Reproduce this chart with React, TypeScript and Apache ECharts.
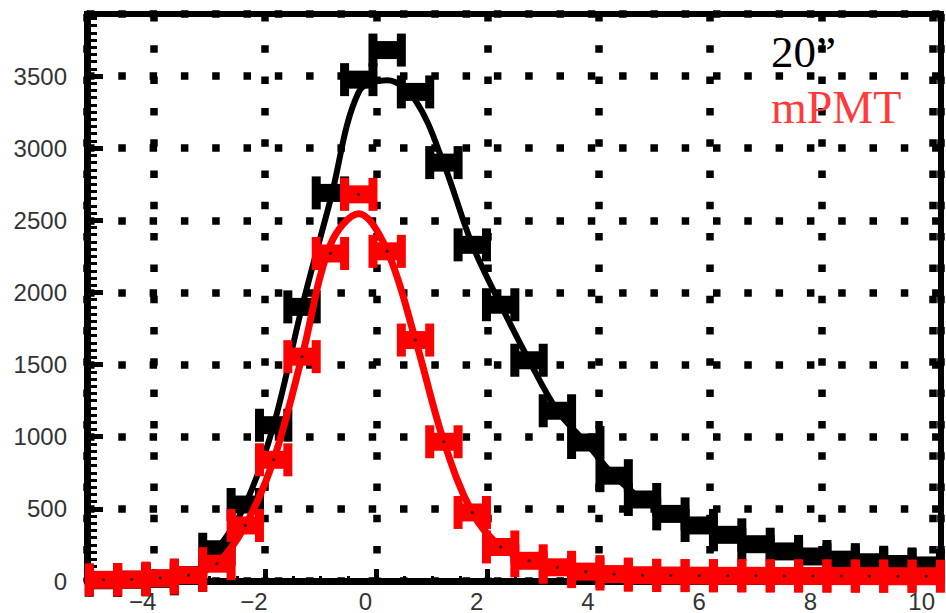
import React, { useEffect, useRef } from "react";
import * as echarts from "echarts";

// Histogram binning: 30 bins of width 0.51 starting at -5.16
const BIN_WIDTH = 0.51;
const binCenters = [
  -4.905, -4.395, -3.885, -3.375, -2.865, -2.355, -1.845, -1.335, -0.825, -0.315,
  0.195, 0.705, 1.215, 1.725, 2.235, 2.745, 3.255, 3.765, 4.275, 4.785,
  5.295, 5.805, 6.315, 6.825, 7.335, 7.845, 8.355, 8.865, 9.375, 9.885,
];

// 20" PMT bin contents
const pmt20Counts = [
  5, 8, 15, 40, 220, 530, 1080, 1900, 2690, 3475,
  3680, 3390, 2900, 2330, 1915, 1530, 1180, 960, 730, 565,
  465, 385, 320, 255, 205, 170, 148, 130, 118, 108,
];
// smoothed curve drawn over the 20" histogram
const pmt20Curve = [
  5, 8, 15, 40, 220, 530, 1080, 1900, 2640, 3390,
  3470, 3330, 2890, 2330, 1915, 1530, 1180, 960, 730, 565,
  465, 385, 320, 255, 205, 170, 148, 130, 118, 108,
];

// mPMT bin contents
const mpmtCounts = [
  8, 10, 20, 40, 120, 385, 840, 1555, 2270, 2680,
  2285, 1670, 965, 475, 236, 140, 95, 65, 48, 40,
  38, 37, 36, 36, 35, 35, 34, 34, 33, 33,
];
// smoothed curve drawn over the mPMT histogram
const mpmtCurve = [
  8, 10, 20, 40, 120, 385, 840, 1555, 2330, 2545,
  2290, 1670, 965, 475, 236, 140, 95, 65, 48, 40,
  38, 37, 36, 36, 35, 35, 34, 34, 33, 33,
];

const legendLabels = ["20\u201D", "mPMT"];

const BLACK = "#000000";
const RED = "#ff0000";
const LEGEND_RED = "#ff3a3a";

function pairs(values: number[]): number[][] {
  return binCenters.map((c, i) => [c, values[i]]);
}

// ROOT-style error-bar marker: horizontal bar across the bin with end caps
function markerSeries(name: string, values: number[], color: string, z: number) {
  return {
    name,
    type: "custom",
    z,
    clip: false,
    data: pairs(values),
    encode: { x: 0, y: 1 },
    renderItem: (_params: any, api: any) => {
      const xc = api.value(0);
      const v = api.value(1);
      const l = api.coord([xc - BIN_WIDTH / 2, v]);
      const r = api.coord([xc + BIN_WIDTH / 2, v]);
      const capW = 9;
      const capH = 33;
      const barH = 18;
      return {
        type: "group",
        children: [
          {
            type: "rect",
            shape: { x: l[0], y: l[1] - barH / 2, width: r[0] - l[0], height: barH },
            style: { fill: color },
          },
          {
            type: "rect",
            shape: { x: l[0] - capW / 2, y: l[1] - capH / 2, width: capW, height: capH },
            style: { fill: color },
          },
          {
            type: "rect",
            shape: { x: r[0] - capW / 2, y: r[1] - capH / 2, width: capW, height: capH },
            style: { fill: color },
          },
        ],
      };
    },
  };
}

function curveSeries(name: string, values: number[], color: string, width: number, z: number) {
  return {
    name,
    type: "line",
    z,
    data: pairs(values),
    smooth: 0.35,
    showSymbol: false,
    symbol: "none",
    lineStyle: { color, width },
  };
}

const tickLabel = (v: number) => {
  if (Math.abs(v - Math.round(v)) > 1e-6) return "";
  return v < 0 ? "\u2212" + Math.abs(v) : String(v);
};

const dotted = { color: BLACK, width: 7.5, type: [7.5, 23.8] as number[] };

export default function App() {
  const ref = useRef<HTMLDivElement>(null);

  useEffect(() => {
    if (!ref.current) return;
    const chart = echarts.init(ref.current, undefined, { renderer: "svg" });
    chart.setOption({
      animation: false,
      backgroundColor: "#ffffff",
      grid: {
        left: 87,
        top: 14,
        width: 854,
        height: 576,
        show: true,
        borderColor: BLACK,
        borderWidth: 6,
        backgroundColor: "transparent",
      },
      xAxis: {
        type: "value",
        min: -5.2,
        max: 10.15,
        splitNumber: 8,
        axisLine: { show: true, onZero: false, lineStyle: { color: BLACK, width: 7 } },
        axisTick: { show: true, inside: true, length: 12, lineStyle: { color: BLACK, width: 5 } },
        minorTick: { show: true, splitNumber: 4, length: 5, lineStyle: { color: BLACK, width: 3 } },
        splitLine: { show: true, lineStyle: dotted },
        axisLabel: {
          show: true,
          showMinLabel: false,
          showMaxLabel: false,
          margin: 8,
          padding: [0, 22, 0, 0],
          color: "#333333",
          fontSize: 24,
          fontFamily: "Liberation Sans",
          formatter: tickLabel,
        },
      },
      yAxis: {
        type: "value",
        min: 0,
        max: 3930,
        interval: 500,
        axisLine: { show: true, onZero: false, lineStyle: { color: BLACK, width: 7 } },
        axisTick: { show: true, inside: true, length: 16, lineStyle: { color: BLACK, width: 5 } },
        minorTick: { show: true, splitNumber: 10, length: 10, lineStyle: { color: BLACK, width: 3 } },
        splitLine: { show: true, lineStyle: dotted },
        axisLabel: {
          show: true,
          showMaxLabel: false,
          margin: 20,
          color: "#333333",
          fontSize: 24,
          fontFamily: "Liberation Sans",
          formatter: tickLabel,
        },
      },
      series: [
        markerSeries("20in-markers", pmt20Counts, BLACK, 3),
        curveSeries("20in-curve", pmt20Curve, BLACK, 6, 4),
        markerSeries("mpmt-markers", mpmtCounts, RED, 5),
        curveSeries("mpmt-curve", mpmtCurve, RED, 7, 6),
        {
          name: "mpmt-points",
          type: "scatter",
          z: 7,
          data: pairs(mpmtCounts),
          symbol: "circle",
          symbolSize: 3,
          itemStyle: { color: BLACK },
          silent: true,
        },
      ],
      graphic: [
        {
          type: "text",
          x: 771,
          y: 52,
          z: 20,
          style: {
            text: legendLabels[0],
            fill: BLACK,
            fontSize: 45,
            fontFamily: "Liberation Serif",
            align: "left",
            verticalAlign: "middle",
          },
        },
        {
          type: "text",
          x: 771,
          y: 107,
          z: 20,
          style: {
            text: legendLabels[1],
            fill: LEGEND_RED,
            fontSize: 46,
            fontFamily: "Liberation Serif",
            align: "left",
            verticalAlign: "middle",
          },
        },
      ],
    });
    return () => chart.dispose();
  }, []);

  return (
    <div
      ref={ref}
      style={{ position: "fixed", left: 0, top: 0, width: 946, height: 613, background: "#fff" }}
    />
  );
}
